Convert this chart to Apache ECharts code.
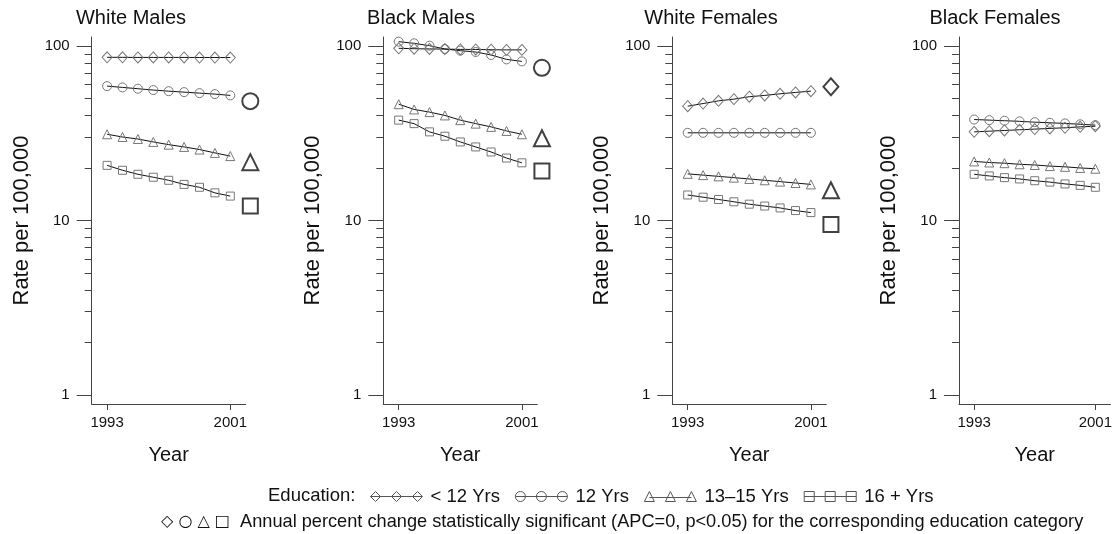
<!DOCTYPE html>
<html>
<head>
<meta charset="utf-8">
<script src="https://cdn.jsdelivr.net/npm/echarts@6/dist/echarts.min.js"></script>
<style>html,body{margin:0;padding:0;background:#fff}#c{width:1115px;height:534px}</style>
</head>
<body>
<div id="c"></div>
<script>
// ---------------- data ----------------
const years = [1993, 1994, 1995, 1996, 1997, 1998, 1999, 2000, 2001];
const panelTitles = ['White Males', 'Black Males', 'White Females', 'Black Females'];
const eduNames = ['< 12 Yrs', '12 Yrs', '13\u201315 Yrs', '16 + Yrs'];

const whiteMalesLt12 = [86.1, 86.1, 86.0, 86.0, 86.0, 86.0, 85.9, 85.9, 85.9];
const whiteMales12 = [58.9, 57.9, 56.9, 55.9, 55.1, 54.4, 53.7, 53.0, 52.1];
const whiteMales13to15 = [31.2, 30.1, 29.3, 28.2, 27.2, 26.4, 25.5, 24.4, 23.4];
const whiteMales16plus = [20.7, 19.4, 18.4, 17.7, 17.0, 16.1, 15.5, 14.4, 13.8];

const blackMalesLt12 = [97.0, 96.5, 96.2, 96.0, 95.6, 95.5, 95.2, 95.0, 95.0];
const blackMales12 = [105.9, 103.6, 100.4, 96.1, 94.0, 92.4, 88.8, 83.8, 81.6];
const blackMales13to15 = [46.4, 43.3, 41.8, 40.0, 37.6, 35.9, 34.4, 32.6, 31.2];
const blackMales16plus = [37.6, 35.9, 32.2, 30.4, 28.2, 26.4, 24.7, 22.8, 21.4];

const whiteFemalesLt12 = [45.2, 46.8, 48.5, 49.6, 51.2, 52.1, 53.2, 54.2, 55.1];
const whiteFemales12 = [31.8, 31.8, 31.8, 31.8, 31.8, 31.8, 31.8, 31.8, 31.8];
const whiteFemales13to15 = [18.5, 18.2, 17.9, 17.6, 17.3, 17.0, 16.7, 16.4, 16.1];
const whiteFemales16plus = [14.0, 13.6, 13.2, 12.8, 12.4, 12.1, 11.8, 11.4, 11.1];

const blackFemalesLt12 = [32.2, 32.5, 32.8, 33.1, 33.4, 33.7, 34.0, 34.4, 34.7];
const blackFemales12 = [37.9, 37.6, 37.3, 37.0, 36.6, 36.3, 36.0, 35.6, 35.2];
const blackFemales13to15 = [21.8, 21.5, 21.3, 21.0, 20.8, 20.5, 20.3, 20.0, 19.8];
const blackFemales16plus = [18.4, 18.0, 17.6, 17.3, 16.9, 16.6, 16.2, 15.9, 15.5];

// significance markers (value where drawn; null = not significant), order = eduNames
const sigWhiteMales = [null, 48.3, 21.6, 12.1];
const sigBlackMales = [null, 75.0, 29.6, 19.2];
const sigWhiteFemales = [58.4, null, 14.9, 9.5];
const sigBlackFemales = [null, null, null, null];
const sigX = 2002.3;

const yMajorTicks = [1, 10, 100];
const yMinorTicks = [2, 3, 4, 5, 6, 7, 8, 9, 20, 30, 40, 50, 60, 70, 80, 90];
const xTickYears = [1993, 2001];
const legendLine2 = 'Annual percent change statistically significant (APC=0, p<0.05) for the corresponding education category';

// ---------------- layout / style ----------------
const panelData = [
  [whiteMalesLt12, whiteMales12, whiteMales13to15, whiteMales16plus],
  [blackMalesLt12, blackMales12, blackMales13to15, blackMales16plus],
  [whiteFemalesLt12, whiteFemales12, whiteFemales13to15, whiteFemales16plus],
  [blackFemalesLt12, blackFemales12, blackFemales13to15, blackFemales16plus]
];
const panelSig = [sigWhiteMales, sigBlackMales, sigWhiteFemales, sigBlackFemales];
const gridLefts = [91.7, 383.3, 672.3, 959];
const titleCenters = [131, 421, 711, 995];
const GW = 154, GT = 37, GH = 367;
const FONT = '"Liberation Sans", Arial, Helvetica, sans-serif';
const symbols = ['diamond', 'circle', 'triangle', 'rect'];
const symSizes = [[10, 11], 9, 9, 8];
const sigSizes = [[15, 17], 16, 16, 15];

const grids = [], xAxes = [], yAxes = [], series = [], titles = [];
panelTitles.forEach((t, i) => {
  titles.push({
    text: t, left: titleCenters[i], top: 8, textAlign: 'center', padding: 0,
    textStyle: { fontSize: 20, fontWeight: 'normal', color: '#111', fontFamily: FONT }
  });
  grids.push({ left: gridLefts[i], top: GT, width: GW, height: GH });
  xAxes.push({
    gridIndex: i, type: 'value', min: 1992, max: 2002,
    name: 'Year', nameLocation: 'middle', nameGap: 41,
    nameTextStyle: { fontSize: 20, color: '#111', fontFamily: FONT },
    axisLine: { show: true, lineStyle: { color: '#444', width: 1 } },
    axisTick: { show: true, customValues: xTickYears, length: 6, lineStyle: { color: '#444' } },
    axisLabel: { customValues: xTickYears, margin: 11, fontSize: 15, color: '#111', fontFamily: FONT, formatter: v => String(v) },
    splitLine: { show: false }
  });
  yAxes.push({
    gridIndex: i, type: 'log', logBase: 10, min: 0.888, max: 112.6, position: 'left', offset: 0,
    name: 'Rate per 100,000', nameLocation: 'middle', nameGap: 59,
    nameTextStyle: { fontSize: 22, color: '#111', fontFamily: FONT },
    axisLine: { show: true, lineStyle: { color: '#444', width: 1 } },
    axisTick: { show: true, customValues: yMajorTicks, length: 15, lineStyle: { color: '#444' } },
    axisLabel: { customValues: yMajorTicks, margin: 22, fontSize: 15, color: '#111', fontFamily: FONT, formatter: v => String(Math.round(v)) },
    splitLine: { show: false }, minorTick: { show: false }
  });
  yAxes.push({
    gridIndex: i, type: 'log', logBase: 10, min: 0.888, max: 112.6, position: 'left', offset: 0,
    axisLine: { show: false },
    axisTick: { show: true, customValues: yMinorTicks, length: 7, lineStyle: { color: '#444' } },
    axisLabel: { show: false },
    splitLine: { show: false }
  });
  panelData[i].forEach((vals, k) => {
    series.push({
      type: 'line', name: eduNames[k], xAxisIndex: i, yAxisIndex: 2 * i,
      data: years.map((y, j) => [y, vals[j]]),
      symbol: symbols[k], symbolSize: symSizes[k], showAllSymbol: true,
      lineStyle: { color: '#111', width: 1 },
      itemStyle: { color: 'rgba(0,0,0,0)', borderColor: '#777', borderWidth: 1 },
      emphasis: { disabled: true }, silent: true, animation: false
    });
  });
  const sigData = [];
  panelSig[i].forEach((v, k) => {
    if (v != null) sigData.push({ value: [sigX, v], symbol: symbols[k], symbolSize: sigSizes[k] });
  });
  if (sigData.length) {
    series.push({
      type: 'scatter', name: 'APC significant', xAxisIndex: i, yAxisIndex: 2 * i,
      data: sigData, clip: false,
      itemStyle: { color: 'rgba(0,0,0,0)', borderColor: '#111', borderWidth: 2 },
      emphasis: { disabled: true }, silent: true, animation: false
    });
  }
});

const legendIcons = [
  'path://M0 5L52 5M0 5L5 0L10 5L5 10ZM21 5L26 0L31 5L26 10ZM42 5L47 0L52 5L47 10Z',
  'path://M0 5L52 5M0 5A5 5 0 1 1 10 5A5 5 0 1 1 0 5M21 5A5 5 0 1 1 31 5A5 5 0 1 1 21 5M42 5A5 5 0 1 1 52 5A5 5 0 1 1 42 5',
  'path://M5 6L47 6M0 10L5 0L10 10ZM21 10L26 0L31 10ZM42 10L47 0L52 10Z',
  'path://M0 5L52 5M0 0L10 0L10 10L0 10ZM21 0L31 0L31 10L21 10ZM42 0L52 0L52 10L42 10Z'
];

const option = {
  backgroundColor: '#fff',
  animation: false,
  title: titles,
  grid: grids,
  xAxis: xAxes,
  yAxis: yAxes,
  series: series,
  legend: {
    left: 370, top: 487, padding: 0, itemWidth: 52, itemHeight: 10, itemGap: 15,
    selectedMode: false,
    itemStyle: { color: 'rgba(0,0,0,0)', borderColor: '#555', borderWidth: 1 },
    textStyle: { fontSize: 18.5, color: '#111', fontFamily: FONT, padding: [0, 0, 0, 3] },
    data: eduNames.map((n, k) => ({ name: n, icon: legendIcons[k] }))
  },
  graphic: [
    { type: 'text', left: 268, top: 486, style: { text: 'Education:', fontSize: 18.5, fill: '#111', fontFamily: FONT } },
    { type: 'text', left: 161, top: 513, style: {
        text: '{s|\u25C7 \u25CB \u25B3 \u25A1}  ' + legendLine2,
        fontSize: 18.2, fill: '#111', fontFamily: FONT,
        rich: { s: { fontSize: 16, fontFamily: '"DejaVu Sans", sans-serif', fill: '#111' } }
    } }
  ]
};
const chart = echarts.init(document.getElementById('c'), null, { renderer: 'canvas' });
chart.setOption(option);
</script>
</body>
</html>
